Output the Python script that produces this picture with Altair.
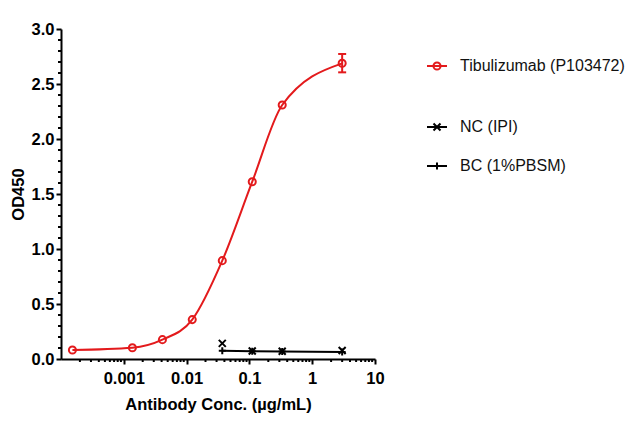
import altair as alt
import pandas as pd

# ---- data ----
conc_tib = [0.000152, 0.00137, 0.00412, 0.0123, 0.037, 0.111, 0.333, 3.0]
od_tib = [0.082, 0.103, 0.176, 0.358, 0.894, 1.612, 2.309, 2.688]
err_conc = [3.0]
err_lo = [2.606]
err_hi = [2.773]

conc_ctrl = [0.037, 0.111, 0.333, 3.0]
od_nc = [0.142, 0.072, 0.070, 0.078]
od_bc = [0.075, 0.071, 0.068, 0.064]

y_major = [0.0, 0.5, 1.0, 1.5, 2.0, 2.5, 3.0]
y_minor = [round(i * 0.1, 1) for i in range(31) if i % 5 != 0]
x_major = [0.001, 0.01, 0.1, 1, 10]
x_minor = [k * 10.0 ** e for e in range(-4, 1) for k in range(2, 10)]

legend_labels = ["Tibulizumab (P103472)", "NC (IPI)", "BC (1%PBSM)"]
legend_colors = ["#e31a1c", "#000000", "#000000"]

RED = "#e31a1c"
FONT = "Liberation Sans"
W, H = 314, 330

X_PATH = "M-1,-1L1,1M-1,1L1,-1"
PLUS_PATH = "M-1,0L1,0M0,-1L0,1"
CAP_PATH = "M-1,0L1,0"

tib = pd.DataFrame({"x": conc_tib, "y": od_tib})
err = pd.DataFrame({"x": err_conc, "y": err_lo, "y2": err_hi})
caps = pd.DataFrame({"x": err_conc * 2, "y": err_lo + err_hi})
nc = pd.DataFrame({"x": conc_ctrl, "y": od_nc})
bc = pd.DataFrame({"x": conc_ctrl, "y": od_bc})

xscale = alt.Scale(type="log", domain=[1e-4, 10], nice=False)
yscale = alt.Scale(domain=[0, 3], nice=False, zero=False)

xaxis = alt.Axis(values=x_major, format="~g", title="Antibody Conc. (µg/mL)",
                 titlePadding=10, labelPadding=6, labelFlush=False)
yaxis = alt.Axis(values=y_major, format=".1f", title="OD450",
                 titlePadding=5, labelPadding=2)

X = alt.X("x:Q", scale=xscale, axis=xaxis)
Y = alt.Y("y:Q", scale=yscale, axis=yaxis)

curve = alt.Chart(tib).mark_line(color=RED, strokeWidth=2, interpolate="monotone").encode(x=X, y=Y)
pts = alt.Chart(tib).mark_point(shape="circle", filled=False, color=RED, size=50, strokeWidth=2, opacity=1).encode(x=X, y=Y)
ebar = alt.Chart(err).mark_rule(color=RED, strokeWidth=2).encode(x=X, y=Y, y2="y2:Q")
ecap = alt.Chart(caps).mark_point(shape=CAP_PATH, color=RED, size=64, strokeWidth=2, opacity=1).encode(x=X, y=Y)

bc_line = alt.Chart(bc).mark_line(color="black", strokeWidth=2).encode(x=X, y=Y)
bc_pts = alt.Chart(bc).mark_point(shape=PLUS_PATH, color="black", size=49, strokeWidth=2, opacity=1).encode(x=X, y=Y)
nc_pts = alt.Chart(nc).mark_point(shape=X_PATH, color="black", size=49, strokeWidth=2, opacity=1).encode(x=X, y=Y)

yminor = alt.Chart(pd.DataFrame({"y": y_minor})).mark_rule(color="black", strokeWidth=2).encode(
    y=Y, x=alt.value(0), x2=alt.value(-3))
xminor = alt.Chart(pd.DataFrame({"x": x_minor})).mark_rule(color="black", strokeWidth=2).encode(
    x=X, y=alt.value(H), y2=alt.value(H + 3))

# ---- manual legend ----
leg_y = [37, 98, 137]
leg_shapes = ["circle", X_PATH, PLUS_PATH]
leg_sizes = [50, 49, 49]
legend_layers = []
for lab, col, ly, shp, sz in zip(legend_labels, legend_colors, leg_y, leg_shapes, leg_sizes):
    d = pd.DataFrame({"label": [lab]})
    legend_layers.append(alt.Chart(d).mark_rule(color=col, strokeWidth=2).encode(
        x=alt.value(366), x2=alt.value(386), y=alt.value(ly)))
    legend_layers.append(alt.Chart(d).mark_point(shape=shp, filled=False, color=col, size=sz,
                                                 strokeWidth=2, opacity=1).encode(
        x=alt.value(376), y=alt.value(ly)))
    legend_layers.append(alt.Chart(d).mark_text(align="left", baseline="middle", font=FONT,
                                                fontSize=16, color="#111111").encode(
        x=alt.value(399), y=alt.value(ly), text="label:N"))

chart = alt.layer(curve, ebar, ecap, pts, bc_line, bc_pts, nc_pts, yminor, xminor, *legend_layers).properties(
    width=W, height=H,
    autosize=alt.AutoSizeParams(type="none"),
    padding={"left": 53, "top": 21, "right": 257, "bottom": 57},
).configure_view(stroke=None).configure_axis(
    grid=False, domainColor="black", domainWidth=2, tickColor="black", tickWidth=2, tickSize=5,
    labelFont=FONT, labelFontSize=16.5, labelFontWeight="bold", labelColor="black",
    titleFont=FONT, titleFontSize=16.5, titleFontWeight="bold", titleColor="black",
)

chart.save("out.html", embed_options={"renderer": "svg", "actions": False})
